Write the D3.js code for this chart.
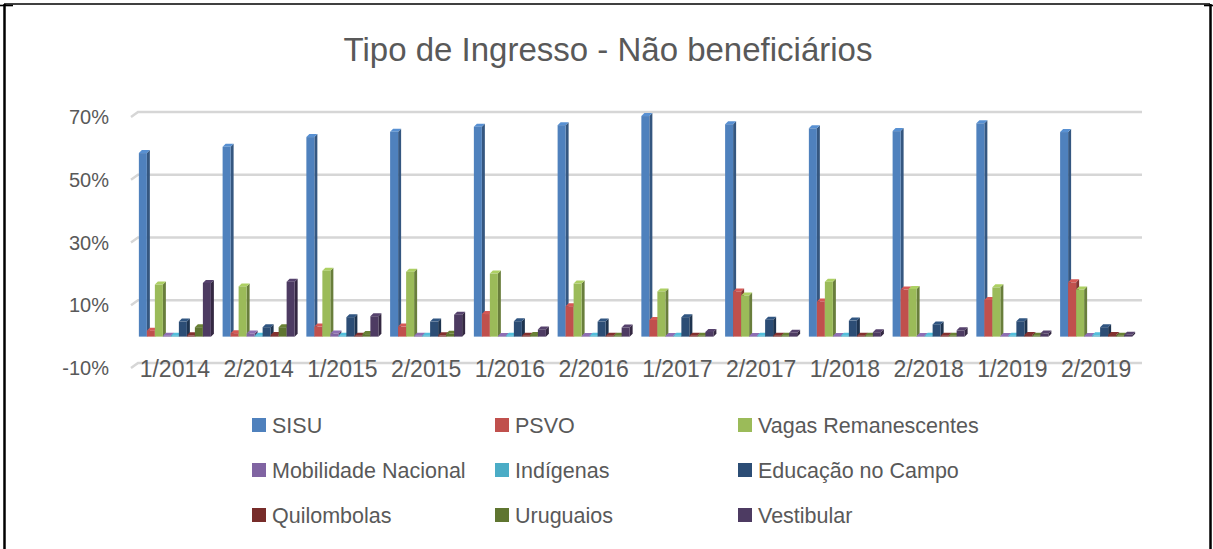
<!DOCTYPE html>
<html>
<head>
<meta charset="utf-8">
<script src="https://cdn.jsdelivr.net/npm/d3@7"></script>
<style>
  body { margin: 0; background: #fff; }
  svg { display: block; font-family: "Liberation Sans", Arial, sans-serif; }
</style>
</head>
<body>
<div id="chart"></div>
<script>
// data (percent)
var categories = ["1/2014", "2/2014", "1/2015", "2/2015", "1/2016", "2/2016",
                  "1/2017", "2/2017", "1/2018", "2/2018", "1/2019", "2/2019"];
var seriesNames = ["SISU", "PSVO", "Vagas Remanescentes", "Mobilidade Nacional", "Indígenas",
                   "Educação no Campo", "Quilombolas", "Uruguaios", "Vestibular"];
var sisu       = [58.5, 60.5, 63.6, 65.3, 66.9, 67.4, 70.3, 67.7, 66.4, 65.5, 68.0, 65.2];
var psvo       = [1.9, 1.1, 3.2, 3.2, 7.2, 9.7, 5.3, 14.4, 11.2, 15.0, 11.7, 17.3];
var vagas      = [16.6, 16.0, 21.0, 20.7, 20.1, 16.9, 14.4, 13.1, 17.5, 15.2, 15.7, 15.0];
var mobilidade = [0.3, 1.0, 1.0, 0.3, 0.2, 0.2, 0.2, 0.2, 0.2, 0.2, 0.2, 0.2];
var indigenas  = [0.3, 0.3, 0.3, 0.3, 0.3, 0.3, 0.3, 0.3, 0.3, 0.3, 0.3, 0.4];
var educacao   = [4.8, 3.0, 6.2, 4.8, 4.9, 4.8, 6.2, 5.4, 5.1, 3.9, 4.9, 3.0];
var quilombolas= [0.4, 0.5, 0.3, 0.4, 0.3, 0.3, 0.3, 0.3, 0.3, 0.3, 0.5, 0.5];
var uruguaios  = [3.0, 3.0, 0.8, 0.9, 0.5, 0.3, 0.3, 0.3, 0.3, 0.3, 0.3, 0.3];
var vestibular = [17.1, 17.5, 6.5, 7.0, 2.3, 2.9, 1.5, 1.2, 1.4, 2.0, 1.0, 0.6];
var yTicks = [-10, 10, 30, 50, 70];

var seriesValues = [sisu, psvo, vagas, mobilidade, indigenas, educacao, quilombolas, uruguaios, vestibular];
var colors = ["#4f81bd", "#c0504d", "#9bbb59", "#8064a2", "#4bacc6",
              "#2c4d75", "#772c2a", "#5f7530", "#4d3b62"];

var W = 1213, H = 549;
var depth = { x: 7, y: 5 };   // floor depth (side wall diagonal)
var bd = 3;                   // bar depth

var svg = d3.select("#chart").append("svg")
	.attr("width", W)
	.attr("height", H);

// page/table borders
var border = svg.append("g").attr("stroke", "#000").attr("fill", "none");
border.append("line").attr("x1", 4).attr("x2", 1210).attr("y1", 4).attr("y2", 4).attr("stroke-width", 1.6);
border.append("line").attr("x1", 4.5).attr("x2", 4.5).attr("y1", 4).attr("y2", H).attr("stroke-width", 2.5);
border.append("line").attr("x1", 1210.5).attr("x2", 1210.5).attr("y1", 4).attr("y2", H).attr("stroke-width", 2.5);
border.append("line").attr("x1", 0).attr("x2", 13).attr("y1", 5.5).attr("y2", 5.5).attr("stroke-width", 1.6);
border.append("line").attr("x1", 1204).attr("x2", 1213).attr("y1", 5.5).attr("y2", 5.5).attr("stroke-width", 1.6);

// title
svg.append("text")
	.attr("x", 608)
	.attr("y", 61)
	.attr("text-anchor", "middle")
	.attr("fill", "#595959")
	.style("font-size", "33px")
	.text("Tipo de Ingresso - Não beneficiários");

// scales: y on the back wall, front plane shifted by depth
var y = d3.scaleLinear().domain([-10, 70]).range([363, 112]);
var x0 = d3.scaleBand().domain(categories).range([133, 1138]).paddingInner(0.14).paddingOuter(0.07);
var x1 = d3.scaleBand().domain(d3.range(seriesNames.length)).range([0, x0.bandwidth()]);

// gridlines (back wall + left wall diagonal)
var grid = svg.append("g").attr("stroke", "#d6d6d6").attr("stroke-width", 2.5).attr("fill", "none");
yTicks.forEach(function(t) {
	var yy = y(t);
	grid.append("path")
		.attr("d", "M" + (138 - depth.x) + "," + (yy + depth.y) + "L138," + yy + "L1142," + yy);
});

// y labels
svg.append("g").selectAll("text")
	.data(yTicks)
	.enter().append("text")
	.attr("x", 109)
	.attr("y", function(d) { return y(d) + depth.y; })
	.attr("dy", "0.35em")
	.attr("text-anchor", "end")
	.attr("fill", "#595959")
	.style("font-size", "20px")
	.text(function(d) { return d + "%"; });

// bars (front, side, top faces)
var base = y(0) + depth.y;
var bars = svg.append("g");
categories.forEach(function(cat, ci) {
	seriesValues.forEach(function(vals, si) {
		var v = vals[ci];
		var bx = x0(cat) + x1(si);
		var bw = x1.bandwidth();
		var top = y(v) + depth.y;
		var c = d3.color(colors[si]);
		var g = bars.append("g");
		g.append("polygon")
			.attr("points", [[bx + bw, top], [bx + bw + bd, top - bd], [bx + bw + bd, base - bd], [bx + bw, base]].join(" "))
			.attr("fill", c.darker(1.1));
		g.append("polygon")
			.attr("points", [[bx, top], [bx + bd, top - bd], [bx + bw + bd, top - bd], [bx + bw, top]].join(" "))
			.attr("fill", c.brighter(0.3));
		g.append("rect")
			.attr("x", bx)
			.attr("y", top)
			.attr("width", bw)
			.attr("height", base - top)
			.attr("fill", c);
	});
});

// category labels
svg.append("g").selectAll("text")
	.data(categories)
	.enter().append("text")
	.attr("x", function(d) { return x0(d) + x0.bandwidth() / 2; })
	.attr("y", 369)
	.attr("dy", "0.35em")
	.attr("text-anchor", "middle")
	.attr("fill", "#595959")
	.style("font-size", "23px")
	.text(function(d) { return d; });

// legend 3 x 3
var legX = [252, 495, 738], legY = [425, 470, 515];
var legend = svg.append("g").selectAll("g")
	.data(seriesNames)
	.enter().append("g")
	.attr("transform", function(d, i) {
		return "translate(" + legX[i % 3] + "," + legY[Math.floor(i / 3)] + ")";
	});
legend.append("rect")
	.attr("x", 0).attr("y", -7)
	.attr("width", 14).attr("height", 14)
	.attr("fill", function(d, i) { return colors[i]; });
legend.append("text")
	.attr("x", 20)
	.attr("dy", "0.35em")
	.attr("fill", "#595959")
	.style("font-size", "21.5px")
	.text(function(d) { return d; });
</script>
</body>
</html>
